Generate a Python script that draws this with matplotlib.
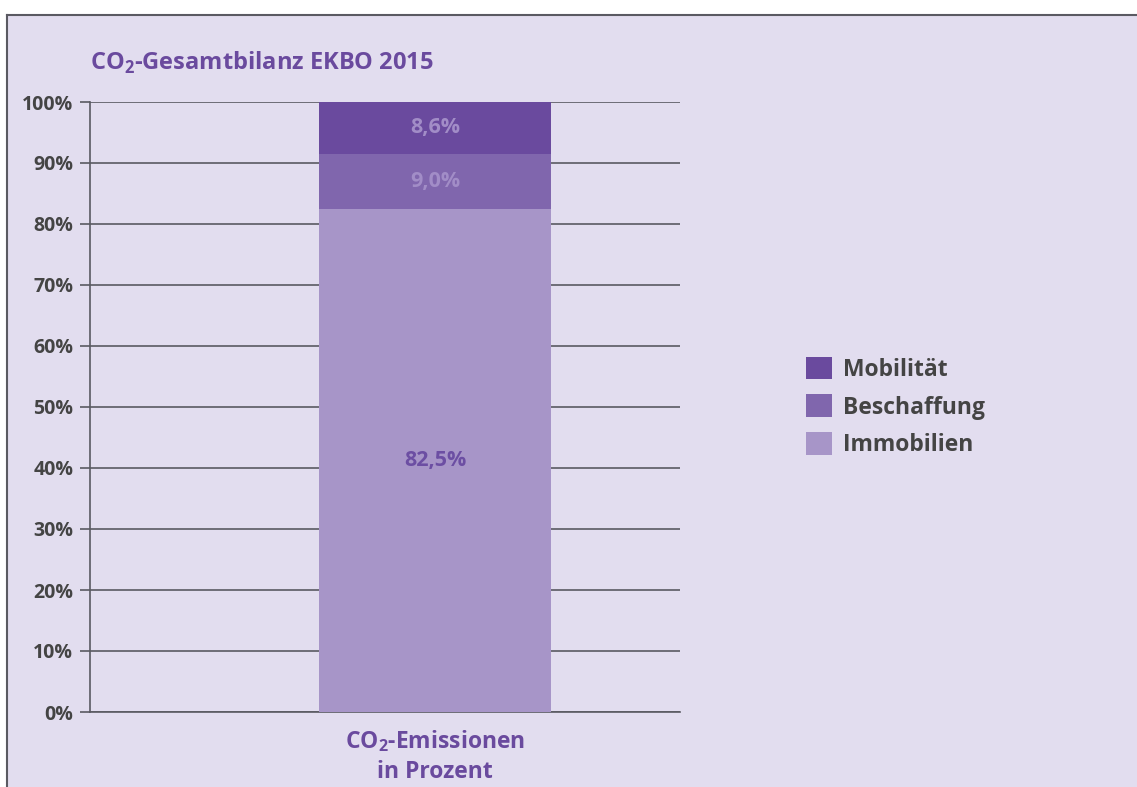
import matplotlib.pyplot as plt
from matplotlib.patches import Patch
from matplotlib.lines import Line2D

plt.rcParams['font.family'] = ['Open Sans', 'DejaVu Sans']
plt.rcParams['mathtext.fontset'] = 'custom'
plt.rcParams['mathtext.rm'] = 'Open Sans:bold'
plt.rcParams['mathtext.bf'] = 'Open Sans:bold'

category = ['CO$_2$-Emissionen\nin Prozent']
segments = ['Immobilien', 'Beschaffung', 'Mobilität']
values = [82.5, 9.0, 8.6]
labels = ['82,5%', '9,0%', '8,6%']
yticks = [0, 10, 20, 30, 40, 50, 60, 70, 80, 90, 100]

colors = ['#a795c8', '#8066ad', '#6a4a9e']
label_colors = ['#6c4ea3', '#a28dc7', '#a28dc7']
bg = '#e2ddef'
purple = '#6a4a9e'
grey = '#444444'
line = '#5a5a62'

fig = plt.figure(figsize=(11.37, 7.87), dpi=100)
fig.patch.set_facecolor('white')

# panel background with frame on left and top
fig.patches.append(plt.Rectangle((7 / 1137, 0), 1, 1 - 15 / 787, transform=fig.transFigure,
                                 facecolor=bg, edgecolor='none', zorder=-5))
fig.add_artist(Line2D([7 / 1137, 7 / 1137], [0, 1 - 15 / 787], transform=fig.transFigure,
                      color=line, lw=1.5, zorder=-4))
fig.add_artist(Line2D([7 / 1137, 1], [1 - 15 / 787, 1 - 15 / 787], transform=fig.transFigure,
                      color=line, lw=1.5, zorder=-4))

ax = fig.add_axes([90 / 1137, 1 - 712 / 787, 590 / 1137, 610 / 787])
ax.set_facecolor('none')

bottom = 0
for seg, v, lab, c, lc in zip(segments, values, labels, colors, label_colors):
    ax.bar(0, v, bottom=bottom, width=0.8, color=c, label=seg, zorder=3)
    ax.text(0, bottom + v / 2, lab, ha='center', va='center', fontsize=15.5,
            fontweight='bold', color=lc, zorder=4)
    bottom += v

ax.set_xlim(-1.19, 0.845)
ax.set_ylim(0, 100)
ax.set_yticks(yticks)
ax.set_yticklabels([f'{t}%' for t in yticks], fontsize=14, fontweight='bold', color=grey)
ax.set_xticks([0])
ax.set_xticklabels(category, fontsize=16.5, fontweight='bold', color=purple, linespacing=1.3)
ax.tick_params(axis='x', length=0, pad=12)
ax.tick_params(axis='y', length=7, color=line, width=1.2, pad=5)
ax.yaxis.grid(True, color=line, lw=1.2, zorder=1)
ax.set_axisbelow(True)
for s in ['top', 'right']:
    ax.spines[s].set_visible(False)
for s in ['left', 'bottom']:
    ax.spines[s].set_color(line)
    ax.spines[s].set_linewidth(1.2)

fig.text(90 / 1137, 1 - 63 / 787, 'CO$_2$-Gesamtbilanz EKBO 2015', fontsize=17,
         fontweight='bold', color=purple, va='center')

handles = [Patch(facecolor=c, edgecolor='none') for c in colors[::-1]]
fig.legend(handles, segments[::-1], loc='center left', bbox_to_anchor=(785 / 1137, 1 - 407 / 787),
           frameon=False, prop={'size': 16.5, 'weight': 'bold'}, labelcolor=grey,
           handlelength=1.15, handleheight=1.15, handletextpad=0.5, labelspacing=0.55)

fig.savefig('out.png', dpi=100)
